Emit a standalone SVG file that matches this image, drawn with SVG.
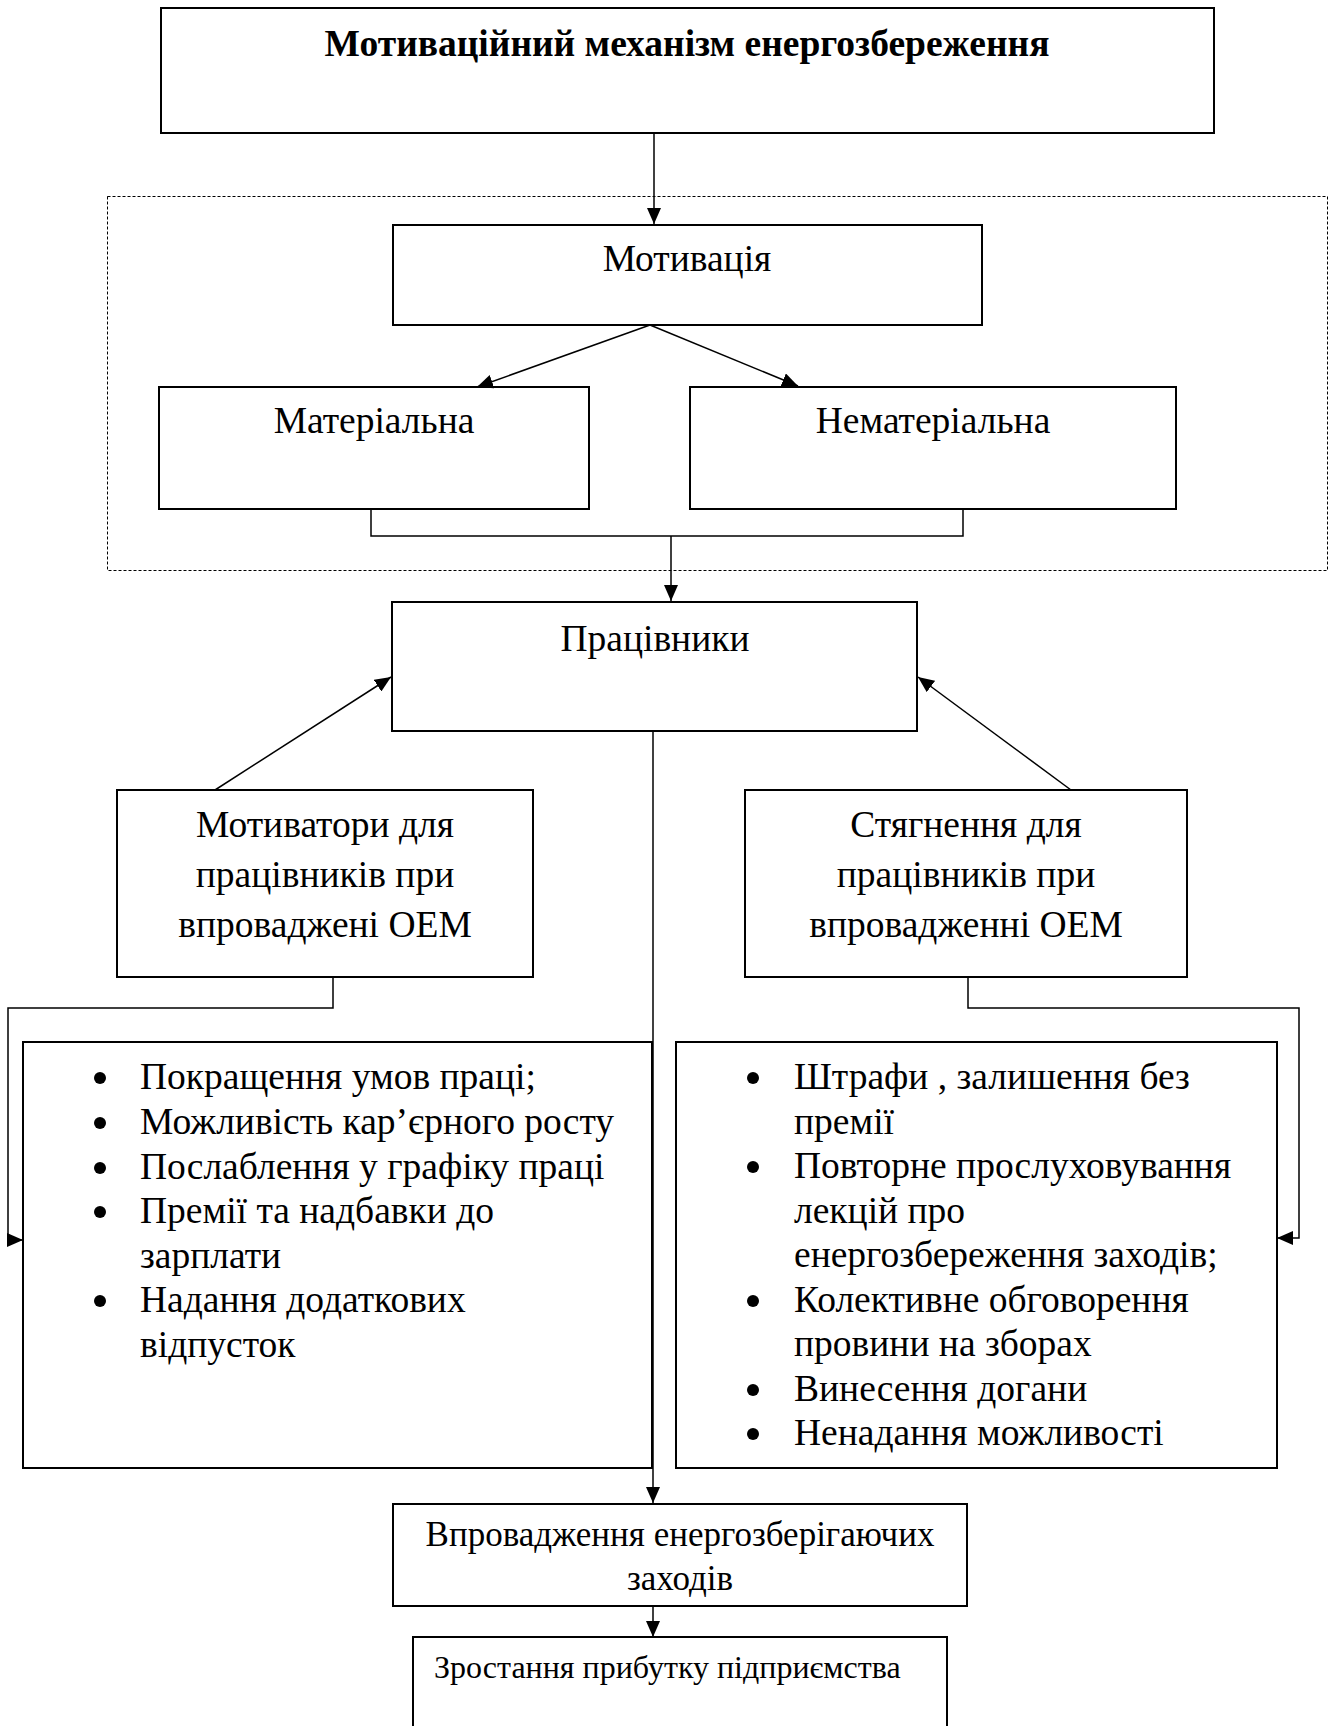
<svg xmlns="http://www.w3.org/2000/svg" width="1330" height="1726" viewBox="0 0 1330 1726">
<style>
.box{fill:#fff;stroke:#000;stroke-width:2}
.dash{fill:none;stroke:#000;stroke-width:1;stroke-dasharray:3 2}
.ln{fill:none;stroke:#000;stroke-width:1.5}
.t{font-family:"Liberation Serif","Times New Roman",serif;font-size:37.5px;fill:#000}
.c{text-anchor:middle}
.s{font-size:35px}
.s2{font-size:32px}
.b{font-weight:bold}
.dot{fill:#000}
</style>
<defs>
<marker id="ah" markerUnits="userSpaceOnUse" markerWidth="16" markerHeight="14" refX="16" refY="7" orient="auto">
<path d="M0,0 L16,7 L0,14 Z" fill="#000"/>
</marker>
</defs>
<rect width="1330" height="1726" fill="#fff"/>
<rect class="dash" x="107.5" y="196.5" width="1220" height="374"/>
<g id="title"><rect class="box" x="161" y="8" width="1053" height="125"/><text class="t c b" x="687" y="56">Мотиваційний механізм енергозбереження</text></g>
<g id="motivation"><rect class="box" x="393" y="225" width="589" height="100"/><text class="t c" x="687" y="271">Мотивація</text></g>
<g id="material"><rect class="box" x="159" y="387" width="430" height="122"/><text class="t c" x="374" y="433">Матеріальна</text></g>
<g id="nonmaterial"><rect class="box" x="690" y="387" width="486" height="122"/><text class="t c" x="933" y="433">Нематеріальна</text></g>
<g id="workers"><rect class="box" x="392" y="602" width="525" height="129"/><text class="t c" x="655" y="651">Працівники</text></g>
<g id="motivators"><rect class="box" x="117" y="790" width="416" height="187"/><text class="t c" x="325" y="837">Мотиватори для</text><text class="t c" x="325" y="887">працівників при</text><text class="t c" x="325" y="937">впроваджені ОЕМ</text></g>
<g id="penalties"><rect class="box" x="745" y="790" width="442" height="187"/><text class="t c" x="966" y="837">Стягнення для</text><text class="t c" x="966" y="887">працівників при</text><text class="t c" x="966" y="937">впровадженні ОЕМ</text></g>
<g id="motivators-list"><rect class="box" x="23" y="1042" width="629" height="426"/>
<circle class="dot" cx="100" cy="1078" r="6"/><text class="t" x="140" y="1089">Покращення умов праці;</text>
<circle class="dot" cx="100" cy="1123" r="6"/><text class="t" x="140" y="1134">Можливість кар’єрного росту</text>
<circle class="dot" cx="100" cy="1168" r="6"/><text class="t" x="140" y="1179">Послаблення у графіку праці</text>
<circle class="dot" cx="100" cy="1212" r="6"/><text class="t" x="140" y="1223">Премії та надбавки до</text>
<text class="t" x="140" y="1268">зарплати</text>
<circle class="dot" cx="100" cy="1301" r="6"/><text class="t" x="140" y="1312">Надання додаткових</text>
<text class="t" x="140" y="1357">відпусток</text>
</g>
<g id="penalties-list"><rect class="box" x="676" y="1042" width="601" height="426"/>
<circle class="dot" cx="753" cy="1078" r="6"/><text class="t" x="794" y="1089">Штрафи , залишення без</text>
<text class="t" x="794" y="1134">премії</text>
<circle class="dot" cx="753" cy="1167" r="6"/><text class="t" x="794" y="1178">Повторне прослуховування</text>
<text class="t" x="794" y="1223">лекцій про</text>
<text class="t" x="794" y="1267">енергозбереження заходів;</text>
<circle class="dot" cx="753" cy="1301" r="6"/><text class="t" x="794" y="1312">Колективне обговорення</text>
<text class="t" x="794" y="1356">провини на зборах</text>
<circle class="dot" cx="753" cy="1390" r="6"/><text class="t" x="794" y="1401">Винесення догани</text>
<circle class="dot" cx="753" cy="1434" r="6"/><text class="t" x="794" y="1445">Ненадання можливості</text>
</g>
<g id="implementation"><rect class="box" x="393" y="1504" width="574" height="102"/><text class="t c s" x="680" y="1546">Впровадження енергозберігаючих</text><text class="t c s" x="680" y="1590">заходів</text></g>
<g id="profit"><rect class="box" x="413" y="1637" width="534" height="110"/><text class="t s2" x="434" y="1678">Зростання прибутку підприємства</text></g>
<g id="connectors">
<path class="ln" d="M654,133 V224" marker-end="url(#ah)"/>
<path class="ln" d="M650,325 L477,387" marker-end="url(#ah)"/>
<path class="ln" d="M650,325 L798,386" marker-end="url(#ah)"/>
<path class="ln" d="M371,509 V536 H963 V509"/>
<path class="ln" d="M671,536 V601" marker-end="url(#ah)"/>
<path class="ln" d="M215,790 L391,677" marker-end="url(#ah)"/>
<path class="ln" d="M1071,790 L918,677" marker-end="url(#ah)"/>
<path class="ln" d="M653,731 V1503" marker-end="url(#ah)"/>
<path class="ln" d="M333,977 V1008 H8 V1240 H23" marker-end="url(#ah)"/>
<path class="ln" d="M968,977 V1008 H1299 V1238 H1277" marker-end="url(#ah)"/>
<path class="ln" d="M653,1606 V1637" marker-end="url(#ah)"/>
</g>
</svg>
